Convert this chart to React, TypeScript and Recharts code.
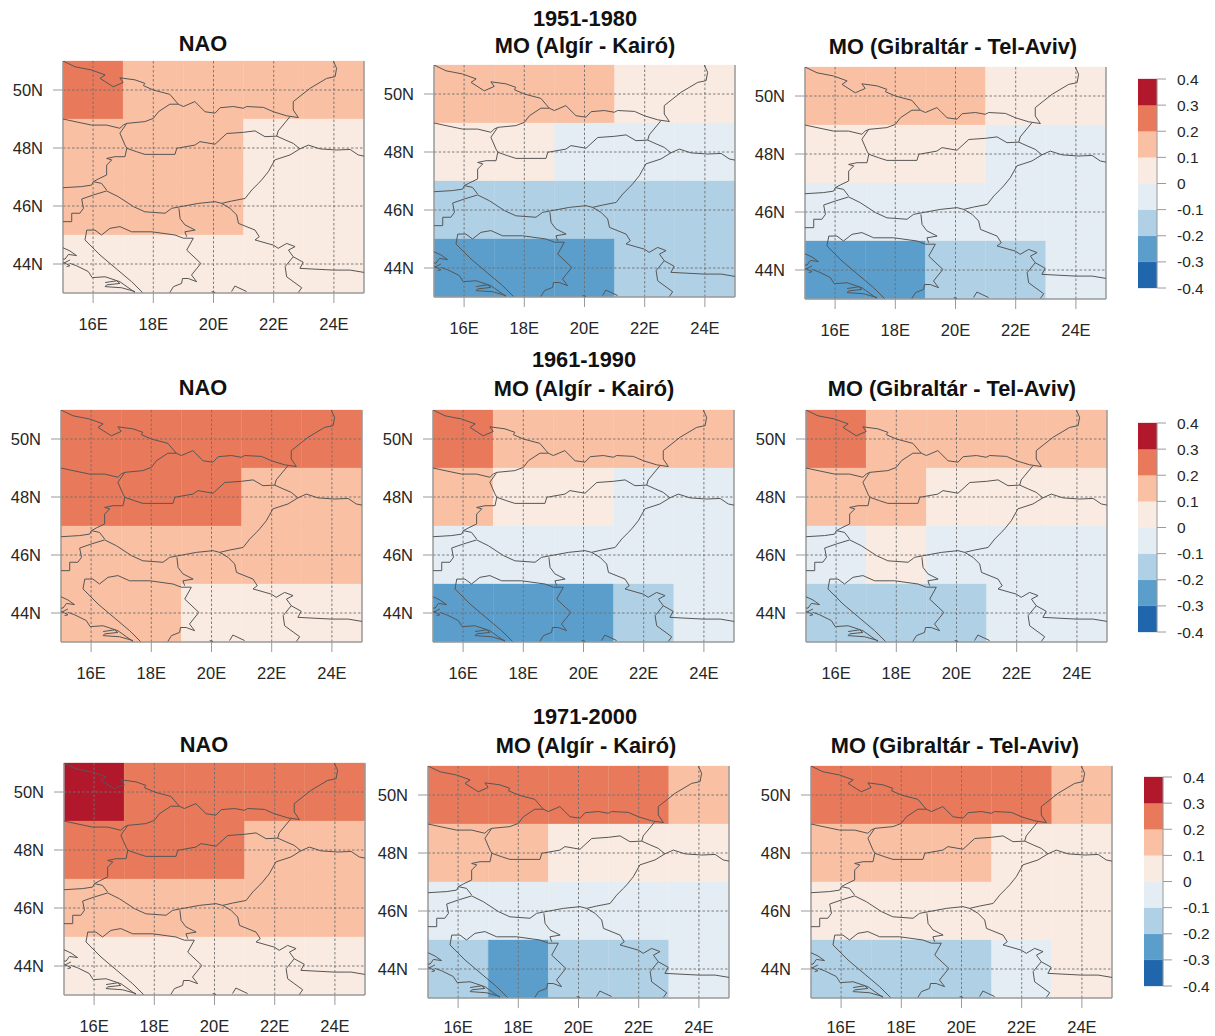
import React from "react";
import { ScatterChart, Scatter, XAxis, YAxis, ReferenceArea, ReferenceLine } from "recharts";

type Pt = [number, number];

const lonTicks = [16, 18, 20, 22, 24];
const latTicks = [44, 46, 48, 50];
const cellLons = [15, 17, 19, 21, 23];
const cellLats = [49, 47, 45, 43];
const cbTicks = [-0.4, -0.3, -0.2, -0.1, 0, 0.1, 0.2, 0.3, 0.4];
const cbColors = ["#2066AC", "#5B9ECC", "#B0D1E5", "#E4EDF3", "#FAEBE2", "#F9C0A3", "#E8795A", "#B2182B"];

const titleNao = "NAO";
const titleAk = "MO (Algír - Kairó)";
const titleGt = "MO (Gibraltár - Tel-Aviv)";
const periods = ["1951-1980", "1961-1990", "1971-2000"];

// grid-cell correlations, rows north to south, columns west to east
const nao5180 = [0.25, 0.15, 0.15, 0.15, 0.15, 0.15, 0.15, 0.15, 0.05, 0.05, 0.15, 0.15, 0.15, 0.05, 0.05, 0.05, 0.05, 0.05, 0.05, 0.05];
const ak5180 = [0.15, 0.15, 0.15, 0.05, 0.05, 0.05, 0.05, -0.05, -0.05, -0.05, -0.15, -0.15, -0.15, -0.15, -0.15, -0.25, -0.25, -0.25, -0.15, -0.15];
const gt5180 = [0.15, 0.15, 0.15, 0.05, 0.05, 0.05, 0.05, 0.05, -0.05, -0.05, -0.05, -0.05, -0.05, -0.05, -0.05, -0.25, -0.25, -0.15, -0.15, -0.05];
const nao6190 = [0.25, 0.25, 0.25, 0.25, 0.25, 0.25, 0.25, 0.25, 0.15, 0.15, 0.15, 0.15, 0.15, 0.15, 0.15, 0.15, 0.15, 0.05, 0.05, 0.05];
const ak6190 = [0.25, 0.15, 0.15, 0.15, 0.15, 0.15, 0.05, 0.05, -0.05, -0.05, -0.05, -0.05, -0.05, -0.05, -0.05, -0.25, -0.25, -0.25, -0.15, -0.05];
const gt6190 = [0.25, 0.15, 0.15, 0.15, 0.15, 0.15, 0.15, 0.05, 0.05, 0.05, -0.05, 0.05, -0.05, -0.05, -0.05, -0.15, -0.15, -0.15, -0.05, -0.05];
const nao7100 = [0.35, 0.25, 0.25, 0.25, 0.25, 0.25, 0.25, 0.25, 0.15, 0.15, 0.15, 0.15, 0.15, 0.15, 0.15, 0.05, 0.05, 0.05, 0.05, 0.05];
const ak7100 = [0.25, 0.25, 0.25, 0.25, 0.15, 0.15, 0.15, 0.05, 0.05, 0.05, -0.05, -0.05, -0.05, -0.05, -0.05, -0.15, -0.25, -0.15, -0.15, -0.05];
const gt7100 = [0.25, 0.25, 0.25, 0.25, 0.15, 0.15, 0.15, 0.15, 0.05, 0.05, 0.05, 0.05, 0.05, 0.05, 0.05, -0.15, -0.15, -0.15, -0.05, 0.05];

// country borders, [lon, lat]
const polandSouth: Pt[] = [[15, 51], [15.4, 50.8], [15.95, 50.69], [16.4, 50.52], [16.23, 50.4], [16.67, 50.11], [17, 50.26], [16.89, 50.42], [17.39, 50.35], [17.72, 50.23], [17.67, 50.15], [18, 50], [18.55, 49.85], [18.83, 49.51], [19, 49.43], [19.38, 49.6], [19.72, 49.25], [20.05, 49.2], [20.22, 49.39], [20.66, 49.43], [20.99, 49.37], [21.1, 49.43], [21.66, 49.4], [21.99, 49.25], [22.43, 49.11], [22.82, 49.05], [22.65, 49.31], [22.65, 49.6], [23.21, 50.06], [23.76, 50.4], [24.04, 50.46], [24.09, 50.75], [23.98, 51]];
const czechSlovakia: Pt[] = [[18.83, 49.51], [18.55, 49.51], [18.17, 49.25], [18, 49.02], [17.72, 48.91], [17.12, 48.85], [16.89, 48.51], [17.06, 48.1], [17.12, 47.99]];
const czechAustria: Pt[] = [[15, 49], [15.4, 48.91], [15.95, 48.79], [16.45, 48.79], [16.89, 48.68], [17, 48.79], [17.12, 48.85]];
const slovakHungary: Pt[] = [[17.12, 47.99], [17.45, 47.87], [17.72, 47.78], [18.72, 47.78], [18.78, 47.99], [19.38, 48.1], [19.55, 48.22], [20.05, 48.13], [20.44, 48.5], [20.99, 48.54], [21.38, 48.59], [21.71, 48.39], [22.1, 48.41]];
const slovakUkraine: Pt[] = [[22.1, 48.41], [22.15, 48.59], [22.54, 49.08]];
const hungaryUkraine: Pt[] = [[22.1, 48.41], [22.38, 48.28], [22.65, 48.16], [22.87, 47.97]];
const ukraineRomania: Pt[] = [[22.87, 47.97], [23.15, 48.1], [23.54, 47.97], [24.09, 47.93], [24.54, 47.95], [24.81, 47.76], [25, 47.72]];
const hungaryRomania: Pt[] = [[22.87, 47.97], [22.54, 47.76], [22.04, 47.59], [21.82, 47.18], [21.6, 46.9], [21.49, 46.78], [21.27, 46.55], [21.05, 46.26], [20.6, 46.17], [20.27, 46.09]];
const austriaHungary: Pt[] = [[17.12, 47.99], [17.06, 47.7], [16.73, 47.7], [16.45, 47.64], [16.62, 47.59], [16.45, 47.41], [16.45, 47.07], [16.17, 46.93], [16.01, 46.84], [15.95, 46.72], [15.62, 46.67], [15, 46.63]];
const sloveniaHungary: Pt[] = [[16.01, 46.84], [16.28, 46.78], [16.45, 46.55]];
const croatiaSlovenia: Pt[] = [[16.45, 46.52], [16.01, 46.38], [15.62, 46.24], [15.68, 45.92], [15.56, 45.75], [15.29, 45.75], [15.29, 45.46], [15, 45.46]];
const hungaryCroatia: Pt[] = [[16.45, 46.52], [16.84, 46.32], [17.34, 45.98], [17.72, 45.8], [18.39, 45.75], [18.61, 45.92], [19.5, 46.09], [20.05, 46.15], [20.27, 46.09]];
const serbiaCroatia: Pt[] = [[18.85, 45.92], [18.89, 45.57], [19.05, 45.35], [19.39, 45.17], [19.05, 45.11], [19.11, 44.94]];
const bosniaNorth: Pt[] = [[15.79, 45.17], [16.06, 45.17], [16.28, 45], [16.56, 45.23], [16.89, 45.29], [17.28, 45.11], [17.95, 45.11], [18.72, 45], [19, 44.89], [19.33, 44.89]];
const bosniaSerbia: Pt[] = [[19.33, 44.89], [19.11, 44.48], [19.58, 44.02], [19.27, 43.62], [19.44, 43.39], [19.16, 43.5], [18.97, 43.5], [18.94, 43.33], [18.67, 43.22], [18.55, 43.02]];
const bosniaWest: Pt[] = [[15.79, 45.17], [15.73, 44.83], [16.23, 44.31], [16.56, 44.02], [17.28, 43.39], [17.64, 43.02]];
const coast: Pt[] = [[15.23, 44.02], [15.45, 43.94], [15.84, 43.74], [15.97, 43.53], [16.4, 43.56], [16.89, 43.39], [17.39, 43.02]];
const islandBrac: Pt[] = [[16.4, 43.36], [16.78, 43.42], [16.89, 43.33], [16.45, 43.28], [16.4, 43.22], [16.95, 43.18], [17.39, 43.05]];
const islandPag: Pt[] = [[15, 44.56], [15.23, 44.45], [15.45, 44.29], [15.18, 44.33], [15.07, 44.17], [15, 44.17]];
const islandDugi: Pt[] = [[15.01, 44.02], [15.23, 44.14]];
const islandUgljan: Pt[] = [[15.01, 44.06], [15.23, 43.94], [15.12, 43.91]];
const serbiaRomania: Pt[] = [[20.27, 46.09], [20.55, 45.92], [20.77, 45.69], [20.83, 45.4], [21.38, 45.17], [21.52, 44.94], [21.38, 44.83], [21.99, 44.65], [22.15, 44.54], [22.43, 44.71], [22.71, 44.6], [22.49, 44.48], [22.65, 44.25], [22.98, 44.06], [22.87, 43.85], [23.98, 43.79], [24.54, 43.79], [25, 43.71]];
const serbiaBulgaria: Pt[] = [[22.65, 44.25], [22.38, 43.91], [22.43, 43.56], [22.93, 43.18], [22.82, 43.02]];
const kosovo: Pt[] = [[20.6, 43.05], [20.71, 43.24], [21.1, 43.05]];
const montenegro: Pt[] = [[19.94, 43.05], [20.05, 43.02]];

const borders = [polandSouth, czechSlovakia, czechAustria, slovakHungary, slovakUkraine, hungaryUkraine, ukraineRomania, hungaryRomania, austriaHungary, sloveniaHungary, croatiaSlovenia, hungaryCroatia, serbiaCroatia, bosniaNorth, bosniaSerbia, bosniaWest, coast, islandBrac, islandPag, islandDugi, islandUgljan, serbiaRomania, serbiaBulgaria, kosovo, montenegro];

const cbAnchor = [{ x: 0, y: 0 }];

const FONT = "'Liberation Sans', Arial, sans-serif";
const TEXT = "#262626";
const AXIS = "#9a9a9a";
const PW = 301, PH = 232;

function colorOf(v: number) {
  const i = Math.floor((v + 0.4) / 0.1);
  return cbColors[Math.max(0, Math.min(cbColors.length - 1, i))];
}

const noPoint = () => null;

function MapPanel({ left, top, values, labelGap = 15 }: { left: number; top: number; values: number[]; labelGap?: number }) {
  return (
    <div style={{ position: "absolute", left: left - 60, top: top - 10 }}>
      <ScatterChart width={PW + 70} height={PH + 52} margin={{ top: 10, right: 10, bottom: 0, left: 0 }}>
        <XAxis type="number" dataKey="lon" domain={[15, 25]} ticks={lonTicks} allowDataOverflow interval={0}
          height={42} tickSize={10} tickMargin={labelGap} stroke={AXIS} axisLine={{ stroke: AXIS, strokeWidth: 1.5 }}
          tick={{ fontSize: 16.5, fill: TEXT, fontFamily: FONT }} tickFormatter={(v: number) => `${v}E`} />
        <YAxis type="number" dataKey="lat" domain={[43, 51]} ticks={latTicks} allowDataOverflow interval={0}
          width={60} tickSize={10} tickMargin={10} stroke={AXIS} axisLine={{ stroke: AXIS, strokeWidth: 1.5 }}
          tick={{ fontSize: 16.5, fill: TEXT, fontFamily: FONT }} tickFormatter={(v: number) => `${v}N`} />
        {values.map((v, i) => {
          const c = i % 5;
          const r = Math.floor(i / 5);
          return (
            <ReferenceArea key={i} x1={cellLons[c]} x2={cellLons[c] + 2} y1={cellLats[r]} y2={cellLats[r] + 2}
              fill={colorOf(v)} fillOpacity={1} stroke={colorOf(v)} strokeWidth={0.3} ifOverflow="visible" />
          );
        })}
        {lonTicks.map((t) => (
          <ReferenceLine key={t} x={t} stroke="#6f6f6f" strokeWidth={0.9} strokeDasharray="2.5 2" />
        ))}
        {latTicks.map((t) => (
          <ReferenceLine key={t} y={t} stroke="#6f6f6f" strokeWidth={0.9} strokeDasharray="2.5 2" />
        ))}
        <ReferenceLine x={25} stroke={AXIS} strokeWidth={1.5} />
        {borders.map((b, i) => (
          <Scatter key={i} data={b.map(([lon, lat]) => ({ lon, lat }))} line={{ stroke: "#565656", strokeWidth: 1 }}
            shape={noPoint} isAnimationActive={false} />
        ))}
      </ScatterChart>
    </div>
  );
}

function ColorBarTick(props: any) {
  const { x, y, payload } = props;
  return (
    <text x={x + 9} y={y + 5.5} fontSize={15.5} fontFamily={FONT} fill={TEXT} textAnchor="start">
      {payload.value}
    </text>
  );
}

function ColorBar({ left, top }: { left: number; top: number }) {
  return (
    <div style={{ position: "absolute", left, top: top - 10 }}>
      <ScatterChart width={71} height={229} margin={{ top: 10, right: 0, bottom: 10, left: 0 }}>
        <XAxis type="number" dataKey="x" domain={[0, 1]} hide />
        <YAxis type="number" dataKey="y" orientation="right" domain={[-0.4, 0.4]} ticks={cbTicks} interval={0} width={52}
          tickSize={9} stroke={AXIS} axisLine={{ stroke: AXIS }} tick={<ColorBarTick />} allowDataOverflow />
        <Scatter data={cbAnchor} shape={noPoint} isAnimationActive={false} />
        {cbColors.map((c, i) => (
          <ReferenceArea key={c} y1={cbTicks[i]} y2={cbTicks[i + 1]} x1={0} x2={1} fill={c} fillOpacity={1} stroke={c} strokeWidth={0.3} ifOverflow="visible" />
        ))}
      </ScatterChart>
    </div>
  );
}

function Title({ text, cx, cy, size = 21.8 }: { text: string; cx: number; cy: number; size?: number }) {
  return (
    <div style={{ position: "absolute", left: cx - 200, top: cy - 15, width: 400, height: 30, lineHeight: "30px", textAlign: "center", fontFamily: FONT, fontWeight: 700, fontSize: size, color: "#111" }}>
      {text}
    </div>
  );
}

export default function App() {
  return (
    <div style={{ position: "absolute", left: 0, top: 0, width: 1215, height: 1036, overflow: "hidden", background: "#fff" }}>
      <Title text={periods[0]} cx={585} cy={19} />
      <Title text={periods[1]} cx={584} cy={360} />
      <Title text={periods[2]} cx={585} cy={717} />

      <Title text={titleNao} cx={203} cy={44} />
      <Title text={titleAk} cx={585} cy={46} />
      <Title text={titleGt} cx={953} cy={47} />
      <Title text={titleNao} cx={203} cy={388} />
      <Title text={titleAk} cx={584} cy={389} />
      <Title text={titleGt} cx={952} cy={389} />
      <Title text={titleNao} cx={204} cy={745} />
      <Title text={titleAk} cx={586} cy={746} />
      <Title text={titleGt} cx={955} cy={746} />

      <MapPanel left={63} top={61} values={nao5180} />
      <MapPanel left={434} top={65} values={ak5180} />
      <MapPanel left={805} top={67} values={gt5180} />
      <MapPanel left={61} top={410} values={nao6190} />
      <MapPanel left={433} top={410} values={ak6190} />
      <MapPanel left={806} top={410} values={gt6190} />
      <MapPanel left={64} top={763} values={nao7100} />
      <MapPanel left={428} top={766} values={ak7100} labelGap={13} />
      <MapPanel left={811} top={766} values={gt7100} labelGap={13} />

      <ColorBar left={1138} top={79} />
      <ColorBar left={1138} top={423} />
      <ColorBar left={1144} top={777} />
    </div>
  );
}
